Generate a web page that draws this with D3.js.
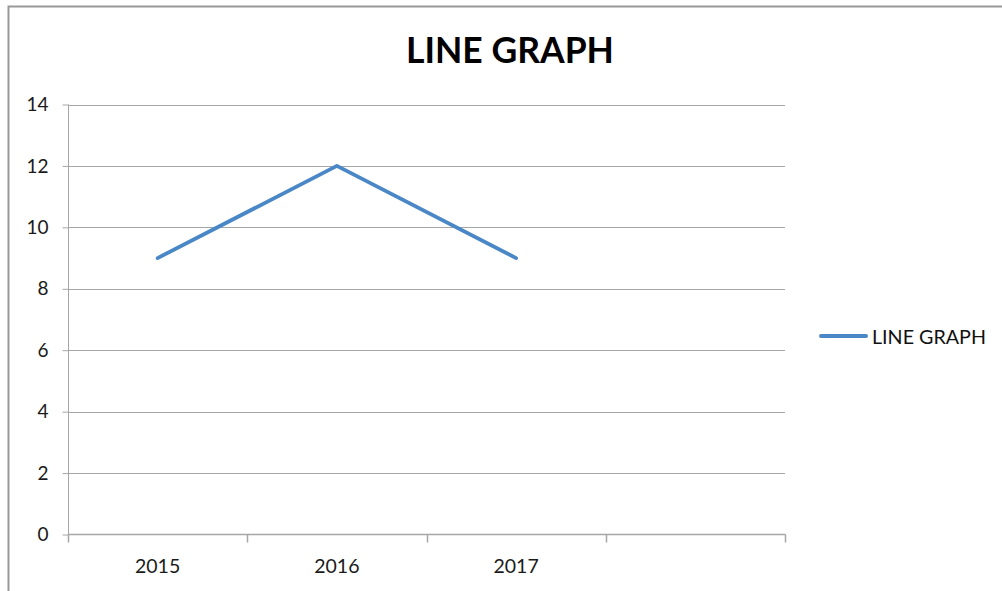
<!DOCTYPE html>
<html><head><meta charset="utf-8">
<script src="https://cdn.jsdelivr.net/npm/d3@7"></script>
<style>html,body{margin:0;padding:0;background:#fff;overflow:hidden}</style>
</head><body>
<svg id="c" width="1002" height="591"></svg>
<script>
const categories = ["2015", "2016", "2017", ""];
const values = [9, 12, 9, null];
const yTicks = [0, 2, 4, 6, 8, 10, 12, 14];
const title = "LINE GRAPH";
const seriesName = "LINE GRAPH";

const svg = d3.select("#c");
const font = "Lato, 'Open Sans', sans-serif";
const grid = "#a6a6a6";
const blue = "#4a87c6";

// outer frame
svg.append("rect").attr("x", 8.5).attr("y", 6.5).attr("width", 1100).attr("height", 700)
  .attr("fill", "none").attr("stroke", "#999").attr("stroke-width", 2);

const L = 68, R = 785, T = 104.5, B = 534.5;
const x = d3.scaleBand().domain(categories.map((c,i)=>i)).range([L, R]);
const y = d3.scaleLinear().domain([0, 14]).range([B, T]);

// gridlines
svg.append("g").selectAll("line").data(yTicks.filter(d=>d>0)).join("line")
  .attr("x1", L).attr("x2", R).attr("y1", d=>Math.round(y(d))+0.5).attr("y2", d=>Math.round(y(d))+0.5)
  .attr("stroke", grid).attr("stroke-width", 1);

// y axis
const yAxis = svg.append("g").attr("transform", `translate(${L+0.5},0)`)
  .call(d3.axisLeft(y).tickValues(yTicks).tickSize(6).tickPadding(14).tickFormat(d3.format("d")));
yAxis.select(".domain").attr("stroke", grid).attr("d", `M0,${T}V${B}`);
yAxis.selectAll(".tick line").attr("stroke", grid);
yAxis.selectAll(".tick text").attr("font-family", font).attr("font-size", 19).attr("fill", "#1a1a1a");

// x axis
const xb = svg.append("g").attr("transform", `translate(0,${B})`);
xb.append("line").attr("x1", L).attr("x2", R+0.5).attr("y1", 0).attr("y2", 0).attr("stroke", grid).attr("stroke-width", 1.5);
const edges = categories.map((c,i)=>x(i)).concat([R]);
xb.selectAll("line.t").data(edges).join("line").attr("class","t")
  .attr("x1", d=>Math.round(d)+0.5).attr("x2", d=>Math.round(d)+0.5).attr("y1", 0).attr("y2", 8)
  .attr("stroke", grid).attr("stroke-width", 1.5);
xb.selectAll("text").data(categories).join("text")
  .attr("x", (d,i)=>x(i)+x.bandwidth()/2).attr("y", 38)
  .attr("text-anchor", "middle").attr("font-family", font).attr("font-size", 19.5).attr("fill", "#1a1a1a")
  .text(d=>d);

// line
const pts = values.map((v,i)=>({i, v})).filter(d=>d.v!=null);
svg.append("path").datum(pts)
  .attr("d", d3.line().x(d=>x(d.i)+x.bandwidth()/2).y(d=>y(d.v)))
  .attr("fill", "none").attr("stroke", blue).attr("stroke-width", 3.8)
  .attr("stroke-linejoin", "round").attr("stroke-linecap", "round");

// title
svg.append("text").attr("x", 510).attr("y", 63).attr("text-anchor", "middle")
  .attr("font-family", font).attr("font-weight", "bold").attr("font-size", 35.5).attr("fill", "#000")
  .text(title);

// legend
svg.append("line").attr("x1", 821).attr("x2", 866).attr("y1", 336).attr("y2", 336)
  .attr("stroke", blue).attr("stroke-width", 4).attr("stroke-linecap", "round");
svg.append("text").attr("x", 872).attr("y", 343.5).attr("font-family", font).attr("font-size", 19.7)
  .attr("fill", "#111").text(seriesName);
</script>
</body></html>
